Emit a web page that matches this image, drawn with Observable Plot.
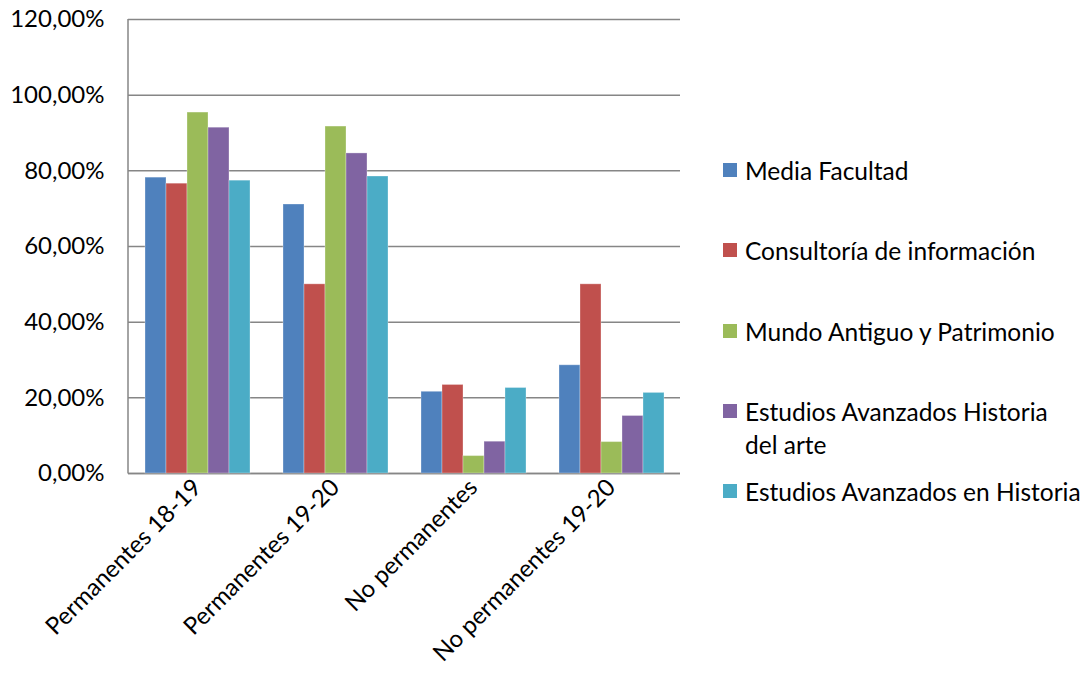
<!DOCTYPE html>
<html>
<head>
<meta charset="utf-8">
<script src="https://cdn.jsdelivr.net/npm/d3@7"></script>
<script src="https://cdn.jsdelivr.net/npm/@observablehq/plot@0.6"></script>
<style>
  body { margin: 0; background: #fff; }
  #wrap { position: relative; width: 1086px; height: 686px; font-family: Lato, "Open Sans", sans-serif; }
  #chart { position: absolute; left: 0; top: 0; }
  .item { position: absolute; left: 723px; display: flex; align-items: flex-start; font-size: 24.5px; line-height: 33px; color: #000; }
  .sw { width: 14px; height: 14px; margin-top: 9px; margin-right: 8px; flex: none; }
  .lbl { max-width: 338px; }
</style>
</head>
<body>
<div id="wrap"><div id="chart"></div><div id="legend"></div></div>
<script>
const categories = ["Permanentes 18-19", "Permanentes 19-20", "No permanentes", "No permanentes 19-20"];
const series = ["Media Facultad", "Consultoría de información", "Mundo Antiguo y Patrimonio", "Estudios Avanzados Historia del arte", "Estudios Avanzados en Historia"];
const colors = ["#4F81BD", "#C0504D", "#9BBB59", "#8064A2", "#4BACC6"];
// values per series, in category order (fractions)
const mediaFacultad = [0.782, 0.711, 0.216, 0.286];
const consultoria = [0.766, 0.500, 0.234, 0.500];
const mundoAntiguo = [0.954, 0.917, 0.046, 0.083];
const historiaArte = [0.914, 0.846, 0.084, 0.152];
const enHistoria = [0.774, 0.785, 0.226, 0.213];
const yTicks = [0, 0.2, 0.4, 0.6, 0.8, 1.0, 1.2];

const valuesBySeries = [mediaFacultad, consultoria, mundoAntiguo, historiaArte, enHistoria];
const data = [];
categories.forEach((c, ci) => series.forEach((s, si) => data.push({cat: c, series: s, value: valuesBySeries[si][ci]})));

const fmt = d => (d * 100).toFixed(2).replace(".", ",") + "%";

const chart = Plot.plot({
  width: 700,
  height: 686,
  marginLeft: 128,
  marginRight: 20,
  marginTop: 19,
  marginBottom: 213,
  style: {fontFamily: "Lato, 'Open Sans', sans-serif", fontSize: "24px", color: "#000", background: "#fff"},
  fx: {domain: categories, padding: 0, label: null, tickSize: 0, tickRotate: -45, tickPadding: 10},
  x: {domain: series, paddingInner: 0, paddingOuter: 0.75, axis: null},
  y: {domain: [0, 1.2], ticks: yTicks, tickFormat: fmt, label: null, tickSize: 0, tickPadding: 24, grid: false},
  color: {domain: series, range: colors},
  marks: [
    Plot.gridY(yTicks, {stroke: "#868686", strokeOpacity: 1, strokeWidth: 1.5}),
    Plot.ruleY([0], {stroke: "#868686", strokeWidth: 1.5}),
    Plot.barY(data, {fx: "cat", x: "series", y: "value", fill: "series", stroke: "#fff", strokeOpacity: 0.3, strokeWidth: 1}),
    Plot.axisY({ticks: yTicks, tickFormat: fmt, tickSize: 0, tickPadding: 24, anchor: "left"})
  ]
});
document.getElementById("chart").appendChild(chart);

// left axis line
const svg = d3.select(chart);
svg.append("line").attr("x1", 128).attr("x2", 128).attr("y1", 19).attr("y2", 473.5).attr("stroke", "#868686").attr("stroke-width", 1.5);

const legend = document.getElementById("legend");
series.forEach((s, i) => {
  const item = document.createElement("div");
  item.className = "item";
  item.style.top = (154 + i * 80.3) + "px";
  item.innerHTML = `<div class="sw" style="background:${colors[i]}"></div><div class="lbl">${s}</div>`;
  legend.appendChild(item);
});
</script>
</body>
</html>
